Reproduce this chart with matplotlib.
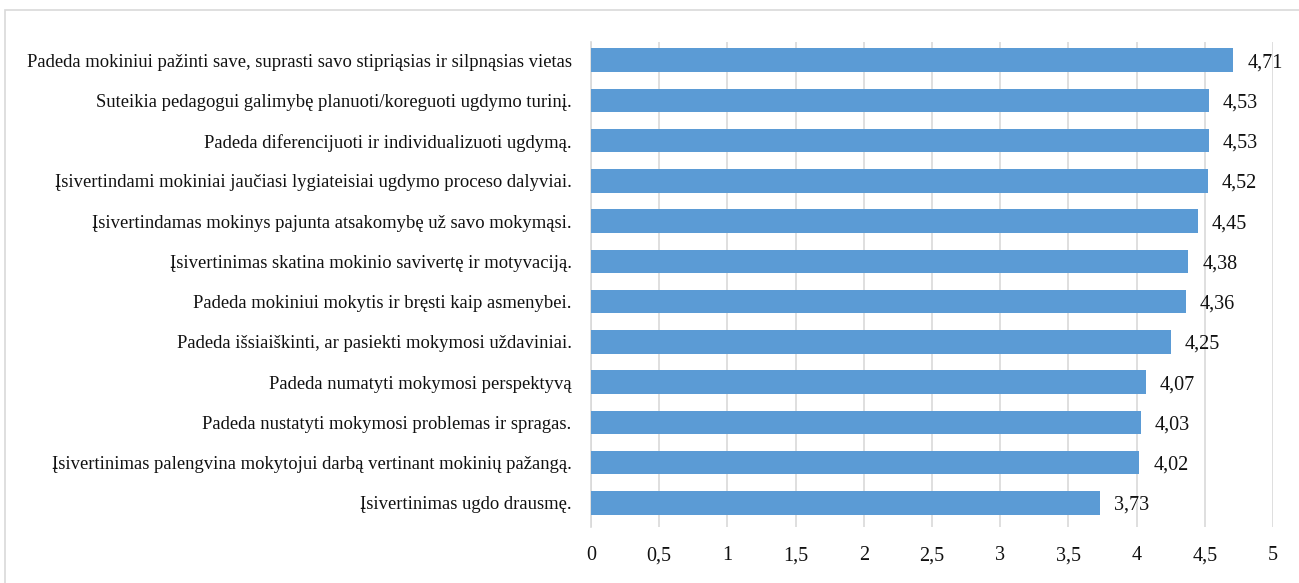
import matplotlib.pyplot as plt
from matplotlib.patches import Rectangle

plt.rcParams['font.family'] = ['Liberation Serif', 'DejaVu Serif']

labels = [
    "Padeda mokiniui pažinti save, suprasti savo stipriąsias ir silpnąsias vietas",
    "Suteikia pedagogui galimybę planuoti/koreguoti ugdymo turinį.",
    "Padeda diferencijuoti ir individualizuoti ugdymą.",
    "Įsivertindami mokiniai jaučiasi lygiateisiai ugdymo proceso dalyviai.",
    "Įsivertindamas mokinys pajunta atsakomybę už savo mokymąsi.",
    "Įsivertinimas skatina mokinio savivertę ir motyvaciją.",
    "Padeda mokiniui mokytis ir bręsti kaip asmenybei.",
    "Padeda išsiaiškinti, ar pasiekti mokymosi uždaviniai.",
    "Padeda numatyti mokymosi perspektyvą",
    "Padeda nustatyti mokymosi problemas ir spragas.",
    "Įsivertinimas palengvina mokytojui darbą vertinant mokinių pažangą.",
    "Įsivertinimas ugdo drausmę.",
]
values = [4.71, 4.53, 4.53, 4.52, 4.45, 4.38, 4.36, 4.25, 4.07, 4.03, 4.02, 3.73]
xticks = [0, 0.5, 1, 1.5, 2, 2.5, 3, 3.5, 4, 4.5, 5]

fig = plt.figure(figsize=(12.99, 5.83), dpi=100)
ax = fig.add_axes([591 / 1299, 56 / 583, 682 / 1299, 485 / 583])

ypos = list(range(len(labels)))[::-1]
ax.barh(ypos, values, height=0.58, color='#5B9BD5', zorder=3)
for y, v in zip(ypos, values):
    ax.annotate(f"{v:.2f}".replace('.', ','), (v, y), xytext=(10, -5),
                textcoords='offset points', va='baseline', ha='left',
                fontsize=14.5, color='#111111')

ax.set_xlim(0, 5)
ax.set_ylim(-0.6, 11.45)
ax.set_xticks(xticks)
ax.set_xticklabels([str(t).replace('.', ',') if t % 1 else str(int(t)) for t in xticks],
                   fontsize=14.5, color='#111111')
for lbl in ax.get_xticklabels():
    lbl.set_va('baseline')
ax.set_yticks(ypos)
ax.set_yticklabels(labels, fontsize=13.4, color='#111111')
for lbl in ax.get_yticklabels():
    lbl.set_va('center_baseline')
ax.tick_params(length=0)
ax.tick_params(axis='x', pad=24)
ax.tick_params(axis='y', pad=14)
ax.grid(axis='x', color='#d9d9d9', linewidth=1.2, zorder=0)
for s in ['top', 'right', 'bottom']:
    ax.spines[s].set_visible(False)
ax.spines['left'].set_color('#d9d9d9')
ax.spines['left'].set_linewidth(1.2)

# light frame around the chart area
fig.patches.append(Rectangle((5 / 1299, -0.01), 1.0, 1 - 10 / 583 + 0.01,
                             transform=fig.transFigure, fill=False,
                             edgecolor='#d9d9d9', linewidth=1.2))

fig.savefig('out.png', dpi=100)
